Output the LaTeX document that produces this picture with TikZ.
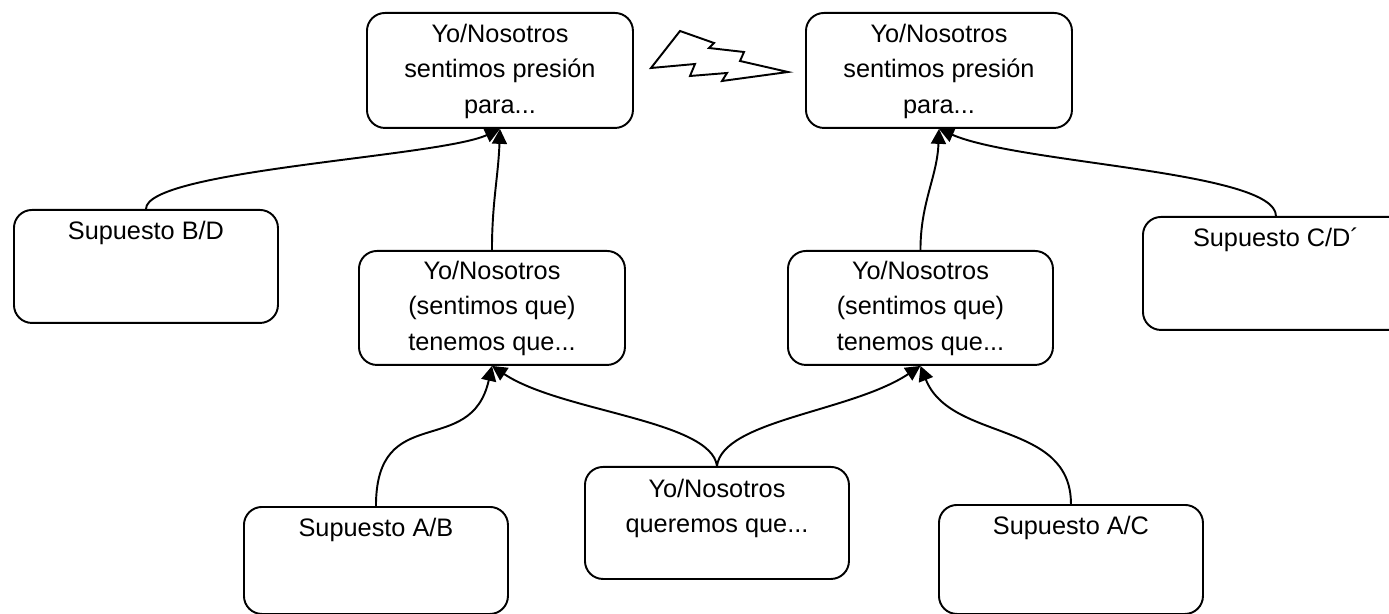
\documentclass[tikz,border=0pt]{standalone}
\usepackage{fontspec}
\setmainfont{Liberation Sans}
\usetikzlibrary{arrows.meta,calc}

\begin{document}
\begin{tikzpicture}[x=0.02cm,y=-0.02cm,
  box/.style={draw,line width=1.1pt,rounded corners=0.36cm,inner sep=0pt,anchor=north west},
  lbl/.style={anchor=north,inner sep=0pt,align=center,font=\fontsize{14.4}{20.1}\selectfont},
  link/.style={line width=1.1pt,-{Triangle[length=8.5pt,width=8.5pt]}},
  bolt/.style={line width=1.1pt,line join=miter}]

\useasboundingbox (0,0) rectangle (1389,614);
\clip (0,0) rectangle (1389,614);

% rounded boxes
\node[box,minimum width=266*0.02cm,minimum height=115*0.02cm] (p1) at (366,12) {};
\node[box,minimum width=266*0.02cm,minimum height=115*0.02cm] (p2) at (805,12) {};
\node[box,minimum width=264*0.02cm,minimum height=113*0.02cm] (bd) at (13,209) {};
\node[box,minimum width=266*0.02cm,minimum height=114*0.02cm] (t1) at (358,250) {};
\node[box,minimum width=265*0.02cm,minimum height=114*0.02cm] (t2) at (787,250) {};
\node[box,minimum width=266*0.02cm,minimum height=113*0.02cm] (cd) at (1142,216) {};
\node[box,minimum width=264*0.02cm,minimum height=107*0.02cm] (ab) at (243,506) {};
\node[box,minimum width=264*0.02cm,minimum height=112*0.02cm] (q)  at (584,466) {};
\node[box,minimum width=264*0.02cm,minimum height=109*0.02cm] (ac) at (938,504) {};

% box texts
\node[lbl] (p1t) at ($(p1.north)+(0,12)$) {Yo/Nosotros\\sentimos presión\\para...};
\node[lbl] (p2t) at ($(p2.north)+(0,12)$) {Yo/Nosotros\\sentimos presión\\para...};
\node[lbl] (bdt) at ($(bd.north)+(0,12)$) {Supuesto B/D};
\node[lbl] (t1t) at ($(t1.north)+(0,11)$) {Yo/Nosotros\\(sentimos que)\\tenemos que...};
\node[lbl] (t2t) at ($(t2.north)+(0,11)$) {Yo/Nosotros\\(sentimos que)\\tenemos que...};
\node[lbl] (cdt) at ($(cd.north)+(0,12)$) {Supuesto C/D´};
\node[lbl] (abt) at ($(ab.north)+(0,12)$) {Supuesto A/B};
\node[lbl] (qt)  at ($(q.north)+(0,13)$) {Yo/Nosotros\\queremos que...};
\node[lbl] (act) at ($(ac.north)+(0,12)$) {Supuesto A/C};

% connectors
\draw[link] (bd.north) .. controls +(0,-39) and +(-60,28) .. (p1.south);
\draw[link] (t1.north) to[out=90,in=-92] (p1.south);
\draw[link] (ab.north) .. controls +(0,-106) and +(-21,94) .. (t1.south);
\draw[link] (q.north)  .. controls +(-6,-46) and +(69,46) .. (t1.south);
\draw[link] (q.north)  .. controls +(6,-46) and +(-69,46) .. (t2.south);
\draw[link] (ac.north) .. controls +(0,-84) and +(30,76) .. (t2.south);
\draw[link] (t2.north) to[out=90,in=-92] (p2.south);
\draw[link] (cd.north) .. controls +(0,-45) and +(80,35) .. (p2.south);

% lightning bolt between the two pressure boxes
\draw[bolt] (680,31) -- (714,43) -- (709,48) -- (744,52) -- (740,61) -- (788,72)
  -- (722,81) -- (727,73) -- (690,76) -- (695,64) -- (651,68) -- cycle;
\end{tikzpicture}
\end{document}
